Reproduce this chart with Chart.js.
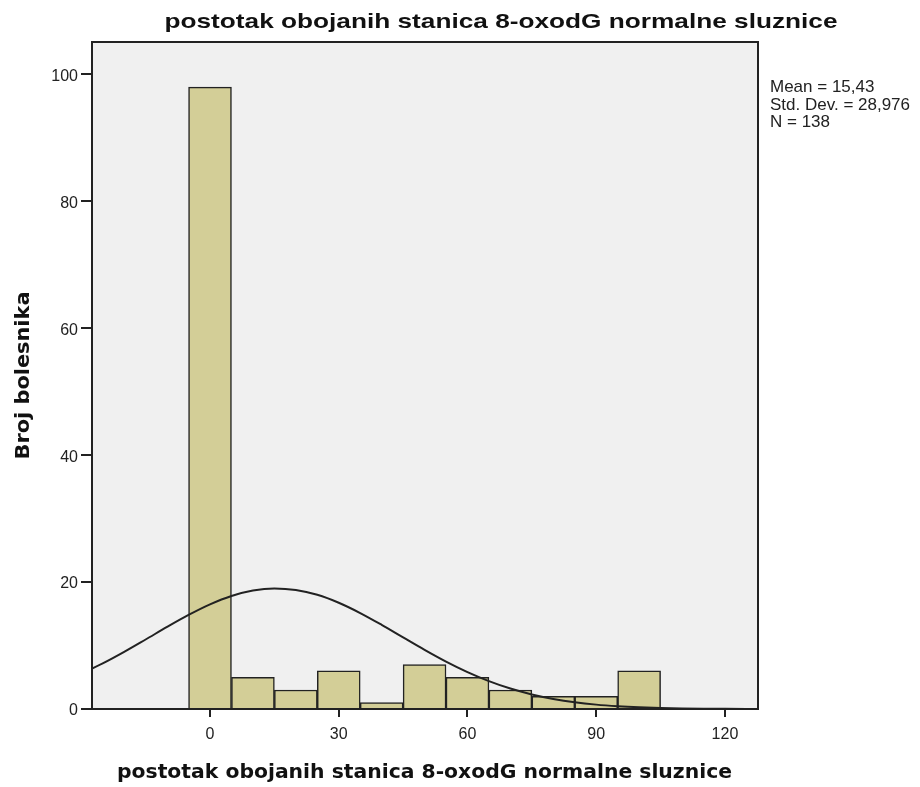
<!DOCTYPE html>
<html>
<head>
<meta charset="utf-8">
<script src="https://cdn.jsdelivr.net/npm/chart.js@4"></script>
<style>
  html, body { margin: 0; padding: 0; background: #ffffff; }
  #wrap { width: 920px; height: 787px; position: relative; }
</style>
</head>
<body>
<div id="wrap"><canvas id="hist"></canvas></div>
<script>
// Histogram bins (bin centres, width 10)
const binCenters = [0, 10, 20, 30, 40, 50, 60, 70, 80, 90, 100];
const binCounts  = [98, 5, 3, 6, 1, 7, 5, 3, 2, 2, 6];

// Normal curve
const curveX = [-30, -25, -20, -15, -10, -5, 0, 5, 10, 15, 20, 25, 30, 35, 40, 45, 50, 55, 60,
                65, 70, 75, 80, 85, 90, 95, 100, 105, 110, 115, 120, 125, 130];
const curveY = [5.56, 7.18, 9.0, 10.95, 12.93, 14.82, 16.49, 17.81, 18.67, 19.0, 18.76, 17.99, 16.74,
                15.12, 13.26, 11.29, 9.33, 7.48, 5.82, 4.40, 3.22, 2.30, 1.59, 1.06, 0.69, 0.44,
                0.27, 0.16, 0.09, 0.05, 0.03, 0.015, 0.01];

const xTicks = [0, 30, 60, 90, 120];
const yTicks = [0, 20, 40, 60, 80, 100];

const chartTitle = 'postotak obojanih stanica 8-oxodG normalne sluznice';
const xTitle = 'postotak obojanih stanica 8-oxodG normalne sluznice';
const yTitle = 'Broj bolesnika';
const statsLines = ['Mean = 15,43', 'Std. Dev. = 28,976', 'N = 138'];

const INK = '#222222';

// text squeezed/stretched horizontally to a given width
function drawFitted(ctx, text, x, y, width) {
    const s = width / ctx.measureText(text).width;
    ctx.save();
    ctx.translate(x, y);
    ctx.scale(s, 1);
    ctx.textAlign = 'center';
    ctx.fillText(text, 0, 0);
    ctx.restore();
}

// frame, background and texts
const decorPlugin = {
    id: 'decor',
    beforeDraw(chart) {
        const { ctx, chartArea: a } = chart;
        ctx.save();
        ctx.fillStyle = '#f0f0f0';
        ctx.fillRect(a.left, a.top, a.right - a.left, a.bottom - a.top);
        ctx.restore();
    },
    afterDraw(chart) {
        const { ctx, chartArea: a } = chart;
        ctx.save();
        ctx.strokeStyle = INK;
        ctx.lineWidth = 2;
        ctx.strokeRect(a.left, a.top, a.right - a.left, a.bottom - a.top);

        ctx.fillStyle = '#111111';
        ctx.textBaseline = 'alphabetic';
        ctx.font = 'bold 21px "Liberation Sans", Arial, sans-serif';
        drawFitted(ctx, chartTitle, 501, 28, 673);

        ctx.font = 'bold 20px "DejaVu Sans", sans-serif';
        drawFitted(ctx, xTitle, 424.5, 778, 615);

        ctx.save();
        ctx.translate(29, (a.top + a.bottom) / 2);
        ctx.rotate(-Math.PI / 2);
        drawFitted(ctx, yTitle, 0, 0, 168);
        ctx.restore();

        ctx.textAlign = 'left';
        ctx.fillStyle = INK;
        ctx.font = '17px "Liberation Sans", Arial, sans-serif';
        statsLines.forEach((line, i) => {
            ctx.fillText(line, 770, 92 + i * 17.5);
        });
        ctx.restore();
    }
};

const ctx = document.getElementById('hist').getContext('2d');
new Chart(ctx, {
    data: {
        datasets: [
            {
                type: 'line',
                data: curveX.map((x, i) => ({ x, y: curveY[i] })),
                borderColor: INK,
                borderWidth: 2,
                pointRadius: 0,
                cubicInterpolationMode: 'monotone',
                fill: false,
                order: 0
            },
            {
                type: 'bar',
                data: binCenters.map((x, i) => ({ x, y: binCounts[i] })),
                backgroundColor: '#d3ce97',
                borderColor: INK,
                borderWidth: 1.5,
                barPercentage: 1,
                categoryPercentage: 1,
                order: 1
            }
        ]
    },
    options: {
        responsive: true,
        maintainAspectRatio: false,
        animation: false,
        layout: { padding: { top: 42, right: 162, left: 0, bottom: 0 } },
        plugins: {
            legend: { display: false },
            tooltip: { enabled: false }
        },
        scales: {
            x: {
                type: 'linear',
                offset: false,
                min: -27.5,
                max: 127.7,
                afterFit(scale) { scale.height = 78; },
                afterBuildTicks(scale) { scale.ticks = xTicks.map(v => ({ value: v })); },
                border: { display: false },
                grid: { offset: false, drawOnChartArea: false, drawTicks: true, tickLength: 8, color: INK, lineWidth: 2 },
                ticks: {
                    padding: 8,
                    color: INK,
                    font: { family: 'Liberation Sans', size: 16 }
                }
            },
            y: {
                type: 'linear',
                min: 0,
                max: 105.1,
                afterFit(scale) { scale.width = 92; },
                afterBuildTicks(scale) { scale.ticks = yTicks.map(v => ({ value: v })); },
                border: { display: false },
                grid: { drawOnChartArea: false, drawTicks: true, tickLength: 11, color: INK, lineWidth: 2 },
                ticks: {
                    padding: 3,
                    labelOffset: 2,
                    color: INK,
                    font: { family: 'Liberation Sans', size: 16 }
                }
            }
        }
    },
    plugins: [decorPlugin]
});
</script>
</body>
</html>
